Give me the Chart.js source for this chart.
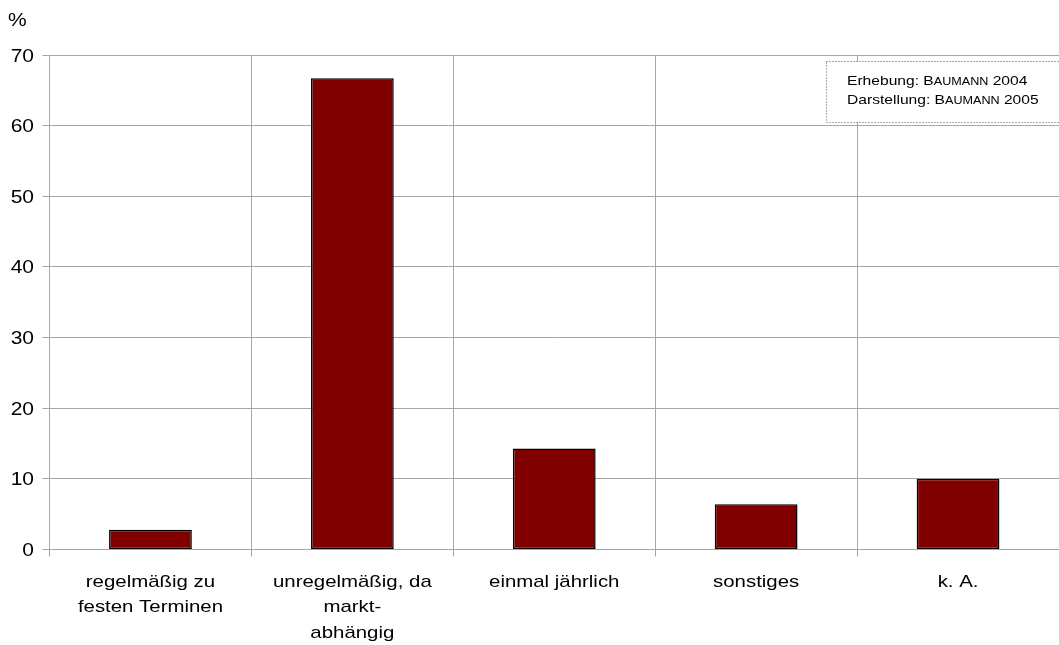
<!DOCTYPE html>
<html>
<head>
<meta charset="utf-8">
<script src="https://cdn.jsdelivr.net/npm/chart.js@4/dist/chart.umd.min.js"></script>
<style>
html,body{margin:0;padding:0;background:#fff;}
#wrap{width:1059px;height:645px;position:relative;}
</style>
</head>
<body>
<div id="wrap"><canvas id="c" width="1059" height="645"></canvas></div>
<script>
const categories = [
  ["regelmäßig zu", "festen Terminen"],
  ["unregelmäßig, da", "markt-", "abhängig"],
  "einmal jährlich",
  "sonstiges",
  "k. A."
];
const values = [2.8, 66.7, 14.3, 6.4, 10.0];
const yUnit = "%";
const yMax = 70;
const yStep = 10;
const noteLines = [
  [["Erhebung: ", false], ["B", false], ["AUMANN", true], [" 2004", false]],
  [["Darstellung: ", false], ["B", false], ["AUMANN", true], [" 2005", false]]
];

const FONT = "'Liberation Sans', Arial, sans-serif";
const gridColor = "#a6a6a6";
const SX = 1.2; // horizontal stretch of the reference's text

function stretchedText(ctx, txt, x, y, align) {
  const w = ctx.measureText(txt).width * SX;
  let left = x;
  if (align === "center") left = x - w / 2;
  else if (align === "right") left = x - w;
  ctx.save();
  ctx.translate(left, y);
  ctx.scale(SX, 1);
  ctx.textAlign = "left";
  ctx.fillText(txt, 0, 0);
  ctx.restore();
}

const extras = {
  id: "extras",
  afterDraw(chart) {
    const ctx = chart.ctx;
    const ca = chart.chartArea;
    const xs = chart.scales.x, ys = chart.scales.y;
    ctx.save();
    ctx.fillStyle = "#000";
    ctx.textBaseline = "alphabetic";
    // x labels
    ctx.font = "17px " + FONT;
    xs.ticks.forEach((t, i) => {
      const lbl = chart.data.labels[i];
      const lines = Array.isArray(lbl) ? lbl : [lbl];
      const cx = xs.getPixelForTick(i);
      lines.forEach((ln, j) => stretchedText(ctx, ln, cx, ca.bottom + 37 + j * 25.5, "center"));
    });
    // y labels
    ctx.font = "17.5px " + FONT;
    ys.ticks.forEach((t, i) => {
      const py = ys.getPixelForTick(i);
      stretchedText(ctx, String(t.value), 34, py + 6.5, "right");
    });
    // unit label
    ctx.font = "17.5px " + FONT;
    stretchedText(ctx, yUnit, 8, 26, "left");
    // note box
    const bx = 826.5, by = 61.5, bw = 240, bh = 61;
    ctx.fillStyle = "#fff";
    ctx.fillRect(bx, by, bw, bh);
    ctx.strokeStyle = "#555";
    ctx.lineWidth = 1;
    ctx.setLineDash([1, 2]);
    ctx.strokeRect(bx, by, bw, bh);
    ctx.setLineDash([]);
    ctx.fillStyle = "#000";
    const baselines = [85, 104];
    noteLines.forEach((parts, i) => {
      ctx.save();
      ctx.translate(847, baselines[i]);
      ctx.scale(SX, 1);
      let x = 0;
      parts.forEach(([txt, small]) => {
        ctx.font = (small ? "10.5px " : "13px ") + FONT;
        ctx.fillText(txt, x, 0);
        x += ctx.measureText(txt).width;
      });
      ctx.restore();
    });
    ctx.restore();
  }
};

new Chart(document.getElementById("c"), {
  type: "bar",
  data: {
    labels: categories,
    datasets: [{
      data: values,
      backgroundColor: "#800000",
      borderColor: "#000",
      borderWidth: 1.5,
      borderSkipped: false,
      barPercentage: 0.41,
      categoryPercentage: 1
    }]
  },
  options: {
    responsive: false,
    animation: false,
    devicePixelRatio: 1,
    layout: { padding: { top: 55, right: 0, left: 0, bottom: 0 } },
    plugins: { legend: { display: false }, tooltip: { enabled: false } },
    scales: {
      x: {
        offset: true,
        grid: { color: gridColor, offset: true, tickLength: 7, lineWidth: 1 },
        border: { color: gridColor },
        ticks: {
          color: "rgba(0,0,0,0)",
          font: { family: FONT, size: 17, lineHeight: 1.5 },
          padding: 8,
          maxRotation: 0,
          autoSkip: false
        },
        afterFit(scale) { scale.height = 95.5; }
      },
      y: {
        min: 0,
        max: yMax,
        grid: { color: gridColor, tickLength: 7, lineWidth: 1 },
        border: { color: gridColor },
        ticks: {
          stepSize: yStep,
          color: "rgba(0,0,0,0)",
          font: { family: FONT, size: 17.5 },
          padding: 8
        },
        afterFit(scale) { scale.width = 49.5; }
      }
    }
  },
  plugins: [extras]
});
</script>
</body>
</html>
